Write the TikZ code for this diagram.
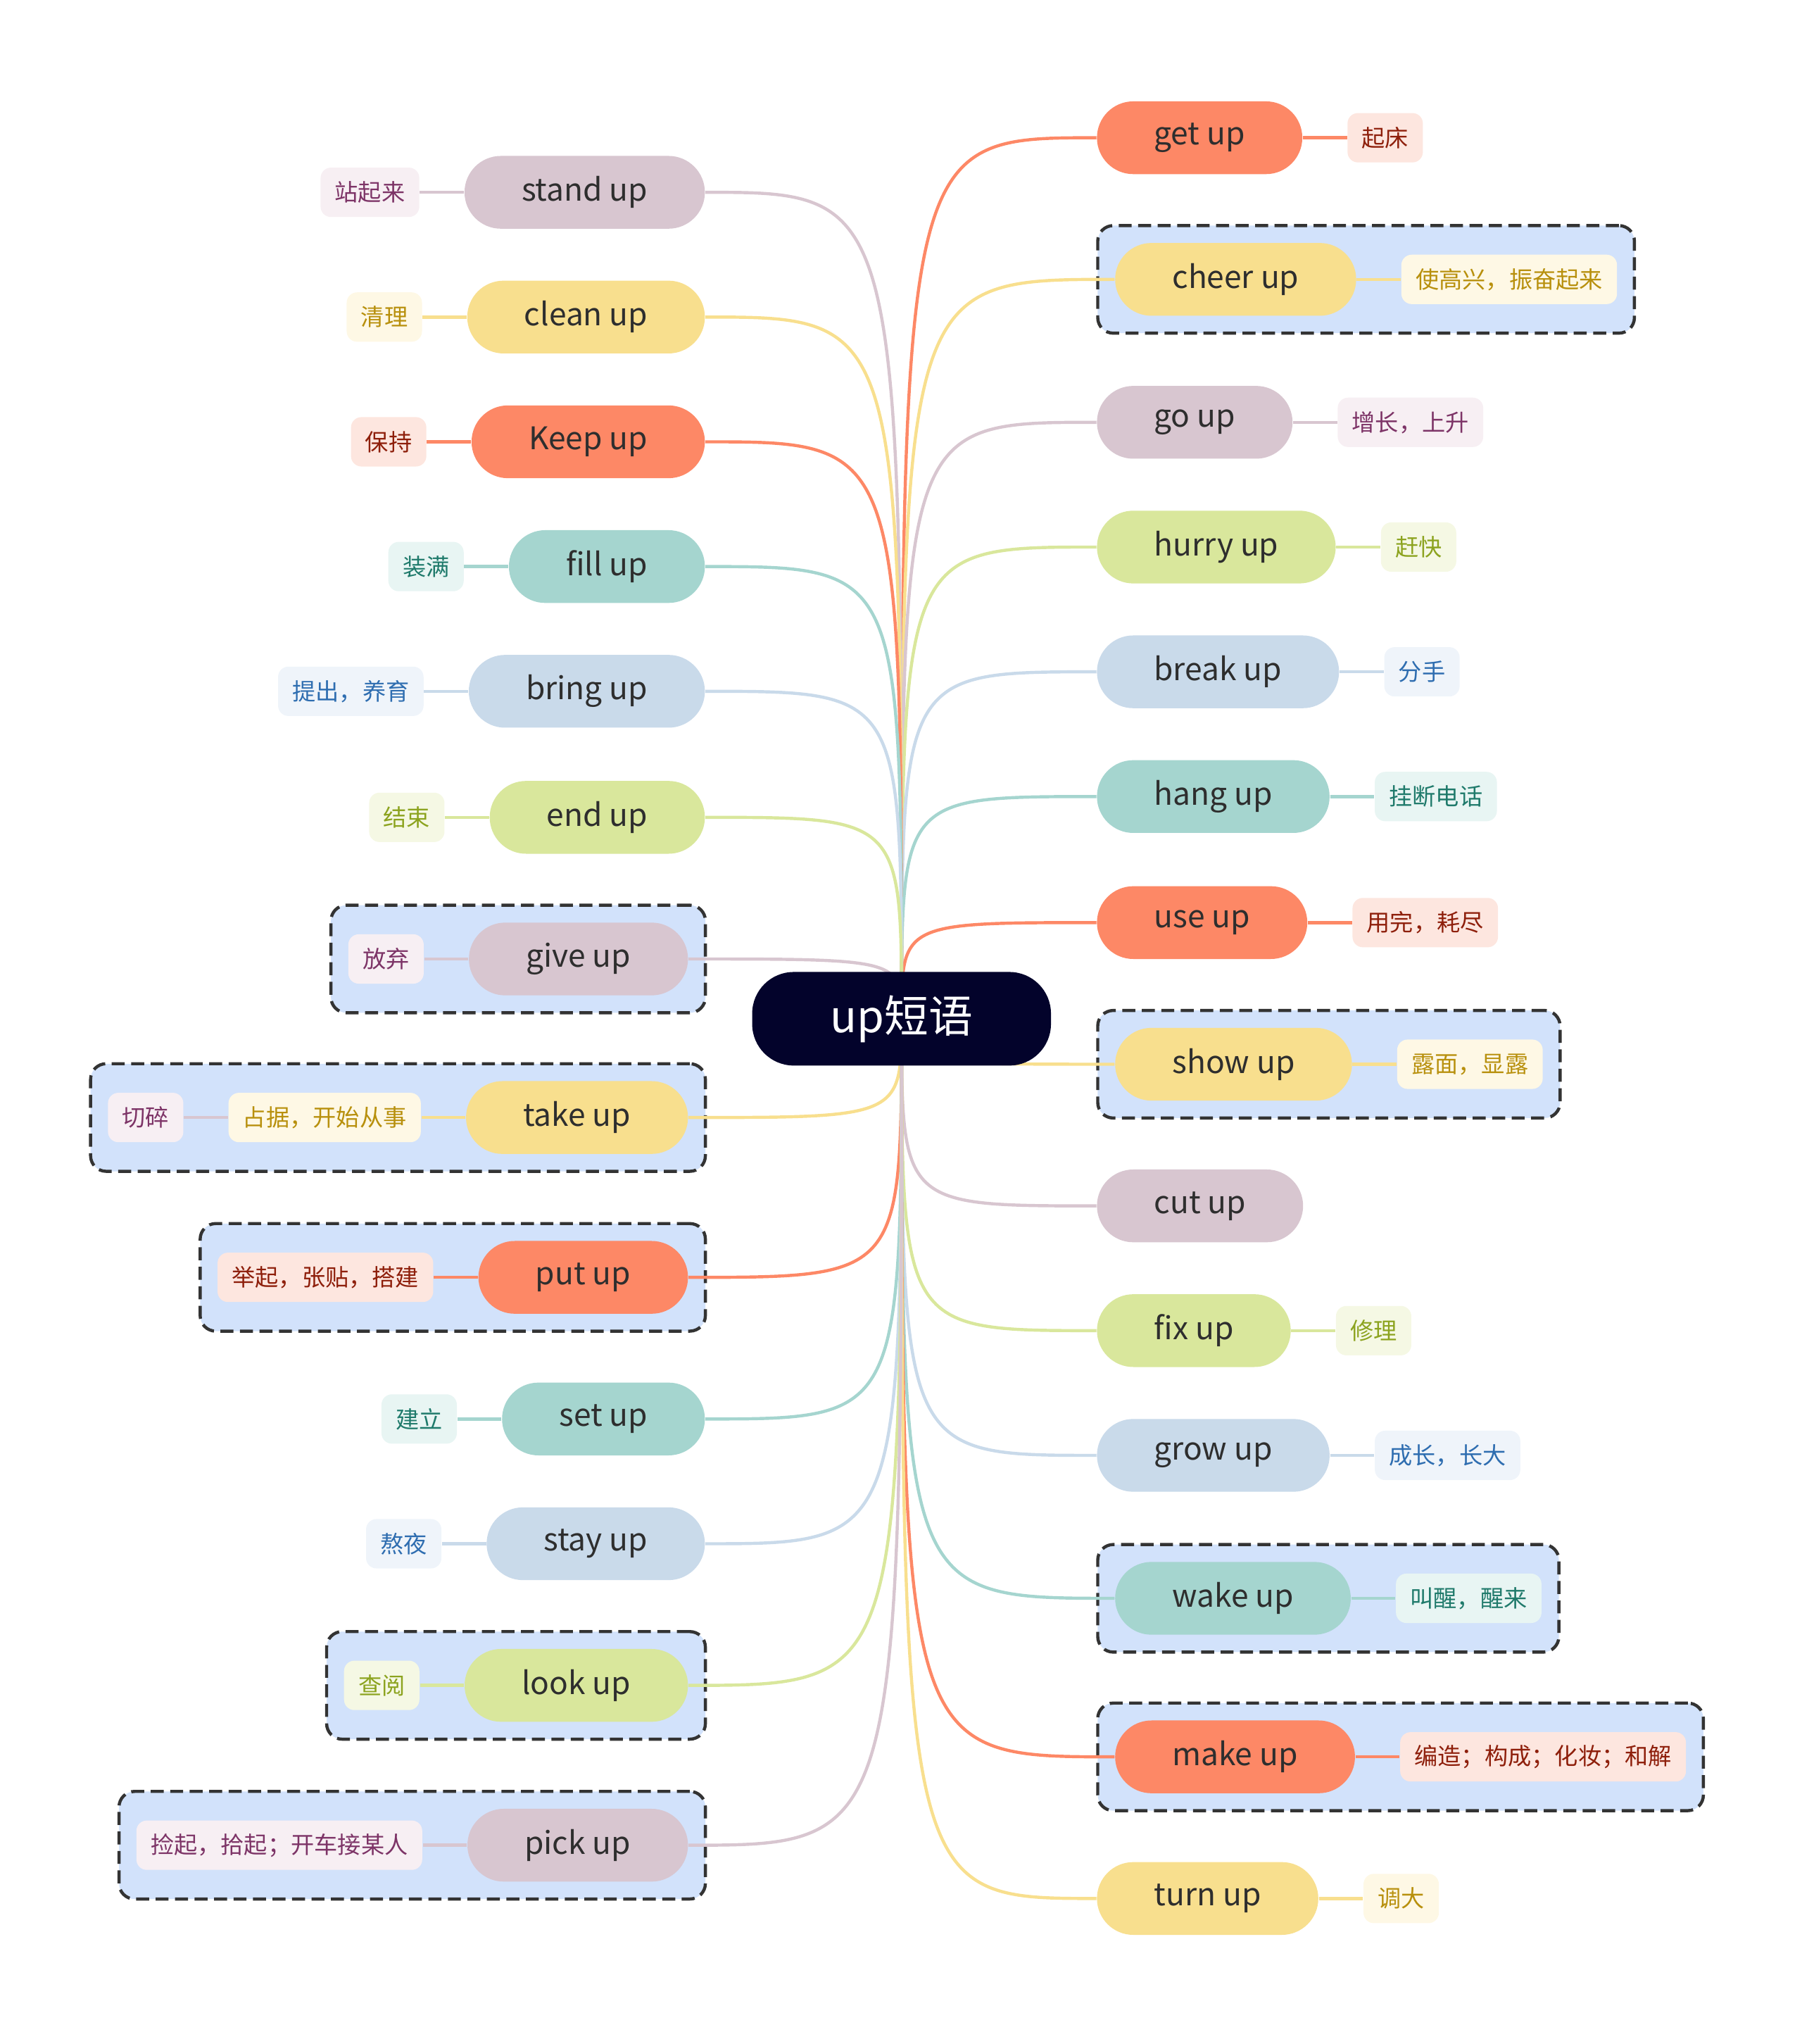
\documentclass[tikz,border=0pt]{standalone}
\usepackage{fontspec}
\setmainfont{Noto Sans CJK SC}
\usetikzlibrary{positioning,fit,backgrounds}
\definecolor{cRed}{HTML}{FD8866}\definecolor{cRedS}{HTML}{FDE6DF}\definecolor{cRedT}{HTML}{8E1F0B}
\definecolor{cYel}{HTML}{F8DF8E}\definecolor{cYelS}{HTML}{FEF8E5}\definecolor{cYelT}{HTML}{B8900D}
\definecolor{cMau}{HTML}{D8C6D0}\definecolor{cMauS}{HTML}{F7EFF3}\definecolor{cMauT}{HTML}{7D3467}
\definecolor{cGrn}{HTML}{D9E79C}\definecolor{cGrnS}{HTML}{F5F8E4}\definecolor{cGrnT}{HTML}{8CA31F}
\definecolor{cBlu}{HTML}{C9DAEA}\definecolor{cBluS}{HTML}{EFF4FA}\definecolor{cBluT}{HTML}{2E6DB0}
\definecolor{cTea}{HTML}{A5D5CF}\definecolor{cTeaS}{HTML}{E8F5F3}\definecolor{cTeaT}{HTML}{1F7A6B}
\definecolor{cGrp}{HTML}{D2E2FB}\definecolor{cRoot}{HTML}{03032B}
\begin{document}
\begin{tikzpicture}[x=0.5pt,y=-0.5pt,node distance=17pt]
  \tikzset{
    rootnode/.style={fill=cRoot,text=white,rounded corners=16pt,minimum height=36pt,minimum width=115pt,font=\fontsize{17}{20}\selectfont},
    topic/.style={fill=#1,rounded corners=14pt,minimum height=28pt,inner xsep=22pt,inner ysep=0pt,text=black!82,font=\fontsize{12}{14}\selectfont},
    gloss/.style={fill=#1S,text=#1T,rounded corners=4pt,minimum height=19pt,inner xsep=5.5pt,inner ysep=0pt,font=\fontsize{9}{11}\selectfont},
    group/.style={draw=black!80,fill=cGrp,dash pattern=on 5pt off 2.5pt,line width=1.2pt,rounded corners=6pt,inner sep=6.5pt},
    link/.style={line width=1.2pt,draw=#1}
  }
  \useasboundingbox (0,0) rectangle (1387,1573);
  \node[rootnode] (root) at (694,784) {up短语};
  % right side
  \node[topic=cRed,anchor=west] (getup)   at (844,106)  {get up};
  \node[topic=cYel,anchor=west] (cheerup) at (858,215)  {cheer up};
  \node[topic=cMau,anchor=west] (goup)    at (844,325)  {go up};
  \node[topic=cGrn,anchor=west] (hurryup) at (844,421)  {hurry up};
  \node[topic=cBlu,anchor=west] (breakup) at (844,517)  {break up};
  \node[topic=cTea,anchor=west] (hangup)  at (844,613)  {hang up};
  \node[topic=cRed,anchor=west] (useup)   at (844,710)  {use up};
  \node[topic=cYel,anchor=west] (showup)  at (858,819)  {show up};
  \node[topic=cMau,anchor=west] (cutup)   at (844,928)  {cut up};
  \node[topic=cGrn,anchor=west] (fixup)   at (844,1024) {fix up};
  \node[topic=cBlu,anchor=west] (growup)  at (844,1120) {grow up};
  \node[topic=cTea,anchor=west] (wakeup)  at (858,1230) {wake up};
  \node[topic=cRed,anchor=west] (makeup)  at (858,1352) {make up};
  \node[topic=cYel,anchor=west] (turnup)  at (844,1461) {turn up};
  \node[gloss=cRed,right=of getup]   (getup-s)   {起床};
  \node[gloss=cYel,right=of cheerup] (cheerup-s) {使高兴，振奋起来};
  \node[gloss=cMau,right=of goup]    (goup-s)    {增长，上升};
  \node[gloss=cGrn,right=of hurryup] (hurryup-s) {赶快};
  \node[gloss=cBlu,right=of breakup] (breakup-s) {分手};
  \node[gloss=cTea,right=of hangup]  (hangup-s)  {挂断电话};
  \node[gloss=cRed,right=of useup]   (useup-s)   {用完，耗尽};
  \node[gloss=cYel,right=of showup]  (showup-s)  {露面，显露};
  \node[gloss=cGrn,right=of fixup]   (fixup-s)   {修理};
  \node[gloss=cBlu,right=of growup]  (growup-s)  {成长，长大};
  \node[gloss=cTea,right=of wakeup]  (wakeup-s)  {叫醒，醒来};
  \node[gloss=cRed,right=of makeup]  (makeup-s)  {编造；构成；化妆；和解};
  \node[gloss=cYel,right=of turnup]  (turnup-s)  {调大};
  % left side
  \node[topic=cMau,anchor=east] (standup) at (543,148)  {stand up};
  \node[topic=cYel,anchor=east] (cleanup) at (543,244)  {clean up};
  \node[topic=cRed,anchor=east] (keepup)  at (543,340)  {Keep up};
  \node[topic=cTea,anchor=east] (fillup)  at (543,436)  {fill up};
  \node[topic=cBlu,anchor=east] (bringup) at (543,532)  {bring up};
  \node[topic=cGrn,anchor=east] (endup)   at (543,629)  {end up};
  \node[topic=cMau,anchor=east] (giveup)  at (530,738)  {give up};
  \node[topic=cYel,anchor=east] (takeup)  at (530,860)  {take up};
  \node[topic=cRed,anchor=east] (putup)   at (530,983)  {put up};
  \node[topic=cTea,anchor=east] (setup)   at (543,1092) {set up};
  \node[topic=cBlu,anchor=east] (stayup)  at (543,1188) {stay up};
  \node[topic=cGrn,anchor=east] (lookup)  at (530,1297) {look up};
  \node[topic=cMau,anchor=east] (pickup)  at (530,1420) {pick up};
  \node[gloss=cMau,left=of standup] (standup-s) {站起来};
  \node[gloss=cYel,left=of cleanup] (cleanup-s) {清理};
  \node[gloss=cRed,left=of keepup]  (keepup-s)  {保持};
  \node[gloss=cTea,left=of fillup]  (fillup-s)  {装满};
  \node[gloss=cBlu,left=of bringup] (bringup-s) {提出，养育};
  \node[gloss=cGrn,left=of endup]   (endup-s)   {结束};
  \node[gloss=cMau,left=of giveup]  (giveup-s)  {放弃};
  \node[gloss=cYel,left=of takeup]  (takeup-s)  {占据，开始从事};
  \node[gloss=cMau,left=of takeup-s] (takeup-ss) {切碎};
  \node[gloss=cRed,left=of putup]   (putup-s)   {举起，张贴，搭建};
  \node[gloss=cTea,left=of setup]   (setup-s)   {建立};
  \node[gloss=cBlu,left=of stayup]  (stayup-s)  {熬夜};
  \node[gloss=cGrn,left=of lookup]  (lookup-s)  {查阅};
  \node[gloss=cMau,left=of pickup]  (pickup-s)  {捡起，拾起；开车接某人};
  \begin{scope}[on background layer]
    \foreach \g in {cheerup,showup,wakeup,makeup,giveup,putup,lookup,pickup}
      \node[group,fit=(\g)(\g-s)] {};
    \node[group,fit=(takeup)(takeup-ss)] {};
    \foreach \n/\c in {getup/cRed,cheerup/cYel,goup/cMau,hurryup/cGrn,breakup/cBlu,hangup/cTea,useup/cRed,showup/cYel,cutup/cMau,fixup/cGrn,growup/cBlu,wakeup/cTea,makeup/cRed,turnup/cYel}
      \draw[link=\c] (root.center) .. controls (root.center |- \n.west) and (root.center |- \n.west) .. (\n.west);
    \foreach \n/\c in {standup/cMau,cleanup/cYel,keepup/cRed,fillup/cTea,bringup/cBlu,endup/cGrn,giveup/cMau,takeup/cYel,putup/cRed,setup/cTea,stayup/cBlu,lookup/cGrn,pickup/cMau}
      \draw[link=\c] (root.center) .. controls (root.center |- \n.east) and (root.center |- \n.east) .. (\n.east);
    \foreach \n/\c in {getup/cRed,cheerup/cYel,goup/cMau,hurryup/cGrn,breakup/cBlu,hangup/cTea,useup/cRed,showup/cYel,fixup/cGrn,growup/cBlu,wakeup/cTea,makeup/cRed,turnup/cYel,standup/cMau,cleanup/cYel,keepup/cRed,fillup/cTea,bringup/cBlu,endup/cGrn,giveup/cMau,takeup/cYel,putup/cRed,setup/cTea,stayup/cBlu,lookup/cGrn,pickup/cMau}
      \draw[link=\c] (\n) -- (\n-s);
    \draw[link=cMau] (takeup-s) -- (takeup-ss);
  \end{scope}
\end{tikzpicture}
\end{document}
